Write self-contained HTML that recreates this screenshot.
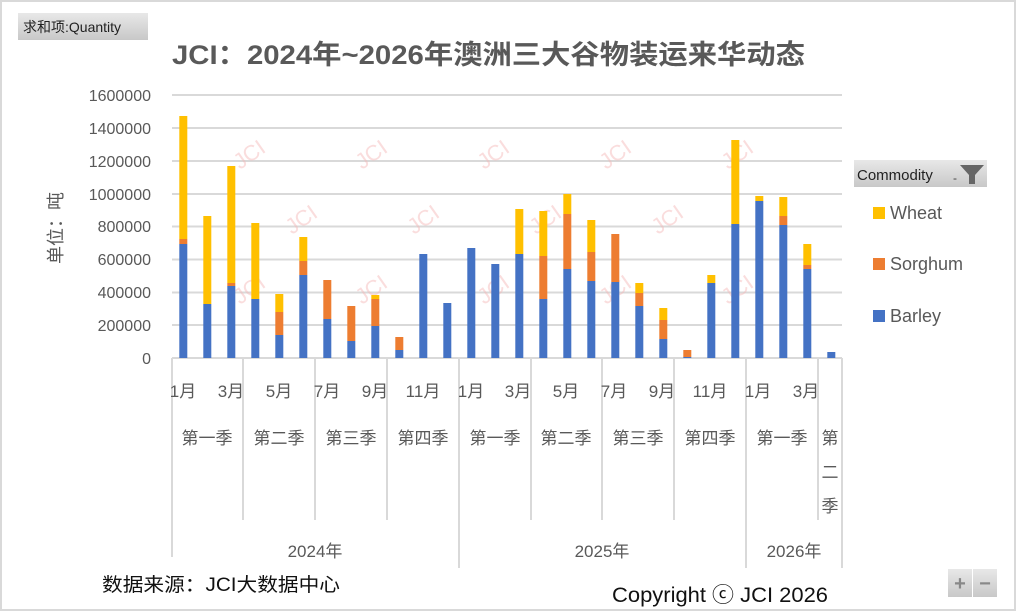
<!DOCTYPE html>
<html><head><meta charset="utf-8"><style>
html,body{margin:0;padding:0;background:#fff}
svg{display:block}
text{font-family:"Liberation Sans","Noto Sans CJK SC",sans-serif}
</style></head><body>
<svg width="1016" height="611" viewBox="0 0 1016 611" xmlns="http://www.w3.org/2000/svg">
<rect x="1" y="1" width="1014" height="609" fill="#fff" stroke="#d9d9d9" stroke-width="2"/>
<defs><linearGradient id="bg" x1="0" y1="0" x2="0" y2="1"><stop offset="0" stop-color="#e8e8e8"/><stop offset="1" stop-color="#c8c8c8"/></linearGradient></defs>
<rect x="18" y="13" width="130" height="27" fill="url(#bg)"/>
<text x="23" y="32" font-size="14" fill="#222">求和项:Quantity</text>
<text x="172" y="64" font-size="27" font-weight="bold" fill="#595959" textLength="633" lengthAdjust="spacingAndGlyphs">JCI：2024年~2026年澳洲三大谷物装运来华动态</text>
<g stroke="#d9d9d9" stroke-width="2">
<line x1="172" y1="95" x2="842" y2="95"/><line x1="172" y1="128" x2="842" y2="128"/>
<line x1="172" y1="161" x2="842" y2="161"/><line x1="172" y1="194" x2="842" y2="194"/>
<line x1="172" y1="226.5" x2="842" y2="226.5"/><line x1="172" y1="259.5" x2="842" y2="259.5"/>
<line x1="172" y1="292.5" x2="842" y2="292.5"/><line x1="172" y1="325" x2="842" y2="325"/>
<line x1="172" y1="358" x2="842" y2="358"/>
</g>
<g font-size="16" fill="#595959" text-anchor="end">
<text x="151" y="101">1600000</text><text x="151" y="134">1400000</text><text x="151" y="167">1200000</text>
<text x="151" y="200">1000000</text><text x="151" y="232">800000</text><text x="151" y="265">600000</text>
<text x="151" y="298">400000</text><text x="151" y="331">200000</text><text x="151" y="364">0</text>
</g>
<text transform="translate(62,228) rotate(-90)" font-size="18" fill="#595959" text-anchor="middle">单位：吨</text>
<g font-size="22" fill="#f4b6b6" opacity="0.45">
<text transform="translate(240,170) rotate(-35)">JCI</text><text transform="translate(362,170) rotate(-35)">JCI</text>
<text transform="translate(484,170) rotate(-35)">JCI</text><text transform="translate(606,170) rotate(-35)">JCI</text>
<text transform="translate(728,170) rotate(-35)">JCI</text><text transform="translate(292,235) rotate(-35)">JCI</text>
<text transform="translate(414,235) rotate(-35)">JCI</text><text transform="translate(536,235) rotate(-35)">JCI</text>
<text transform="translate(658,235) rotate(-35)">JCI</text><text transform="translate(240,305) rotate(-35)">JCI</text>
<text transform="translate(362,305) rotate(-35)">JCI</text><text transform="translate(484,305) rotate(-35)">JCI</text>
<text transform="translate(606,305) rotate(-35)">JCI</text><text transform="translate(728,305) rotate(-35)">JCI</text>
</g>
<g id="bars"></g>
<g stroke="#d9d9d9" stroke-width="2">
<line x1="172" y1="358" x2="172" y2="557"/><line x1="459" y1="358" x2="459" y2="568"/>
<line x1="746" y1="358" x2="746" y2="568"/><line x1="842" y1="358" x2="842" y2="568"/>
<line x1="243" y1="358" x2="243" y2="520"/><line x1="315" y1="358" x2="315" y2="520"/>
<line x1="387" y1="358" x2="387" y2="520"/><line x1="531" y1="358" x2="531" y2="520"/>
<line x1="602" y1="358" x2="602" y2="520"/><line x1="674" y1="358" x2="674" y2="520"/>
<line x1="818" y1="358" x2="818" y2="520"/>
</g>
<g font-size="17" fill="#595959" text-anchor="middle">
<text x="183" y="397">1月</text><text x="231" y="397">3月</text><text x="279" y="397">5月</text>
<text x="327" y="397">7月</text><text x="375" y="397">9月</text><text x="423" y="397">11月</text>
<text x="471" y="397">1月</text><text x="518" y="397">3月</text><text x="566" y="397">5月</text>
<text x="614" y="397">7月</text><text x="662" y="397">9月</text><text x="710" y="397">11月</text>
<text x="758" y="397">1月</text><text x="806" y="397">3月</text>
<text x="207" y="444">第一季</text><text x="279" y="444">第二季</text><text x="351" y="444">第三季</text>
<text x="423" y="444">第四季</text><text x="495" y="444">第一季</text><text x="566" y="444">第二季</text>
<text x="638" y="444">第三季</text><text x="710" y="444">第四季</text><text x="782" y="444">第一季</text>
<text x="830" y="444">第</text><text x="830" y="478">二</text><text x="830" y="512">季</text>
<text x="315" y="557">2024年</text><text x="602" y="557">2025年</text><text x="794" y="557">2026年</text>
</g>
<rect x="854" y="160" width="133" height="27" fill="url(#bg)"/>
<text x="857" y="180" font-size="15" fill="#222">Commodity</text>
<text x="953" y="182" font-size="12" fill="#444">-</text>
<path d="M960 165 L984 165 L975 175 L975 184 L969 184 L969 175 Z" fill="#666"/>
<rect x="873" y="207" width="12" height="12" fill="#ffc000"/>
<text x="890" y="219" font-size="18" fill="#595959">Wheat</text>
<rect x="873" y="258" width="12" height="12" fill="#ed7d31"/>
<text x="890" y="270" font-size="18" fill="#595959">Sorghum</text>
<rect x="873" y="310" width="12" height="12" fill="#4472c4"/>
<text x="890" y="322" font-size="18" fill="#595959">Barley</text>
<text x="102" y="591" font-size="19" fill="#111" textLength="238" lengthAdjust="spacingAndGlyphs">数据来源：JCI大数据中心</text>
<text x="612" y="602" font-size="21" fill="#111" textLength="216" lengthAdjust="spacingAndGlyphs">Copyright ⓒ JCI 2026</text>
<rect x="948" y="569" width="24" height="28" fill="url(#bg)"/>
<rect x="973" y="569" width="24" height="28" fill="url(#bg)"/>
<text x="960" y="590" font-size="20" font-weight="bold" fill="#888" text-anchor="middle">+</text>
<text x="985" y="590" font-size="20" font-weight="bold" fill="#888" text-anchor="middle">−</text>
</svg>
<script>
var d=[[244,239,116],[304,null,216],[286,283,166],[299,null,223],[335,312,294],[275,261,237],[319,280,null],[341,306,null],[326,299,295],[350,337,null],[254,null,null],[303,null,null],[248,null,null],[264,null,null],[254,null,209],[299,256,211],[269,214,194],[281,252,220],[282,234,null],[306,293,283],[339,320,308],[357,350,null],[283,null,275],[224,null,140],[201,null,196],[225,216,197],[269,265,244],[352,null,null]];
var g=document.getElementById('bars'),h='';
d.forEach(function(b,i){var x=179.3+24*i,prev=358,c=['#4472c4','#ed7d31','#ffc000'];
for(var k=0;k<3;k++){if(b[k]!=null){h+='<rect x="'+x+'" y="'+b[k]+'" width="8" height="'+(prev-b[k])+'" fill="'+c[k]+'"/>';prev=b[k];}}});
g.innerHTML=h;
</script>
</body></html>
